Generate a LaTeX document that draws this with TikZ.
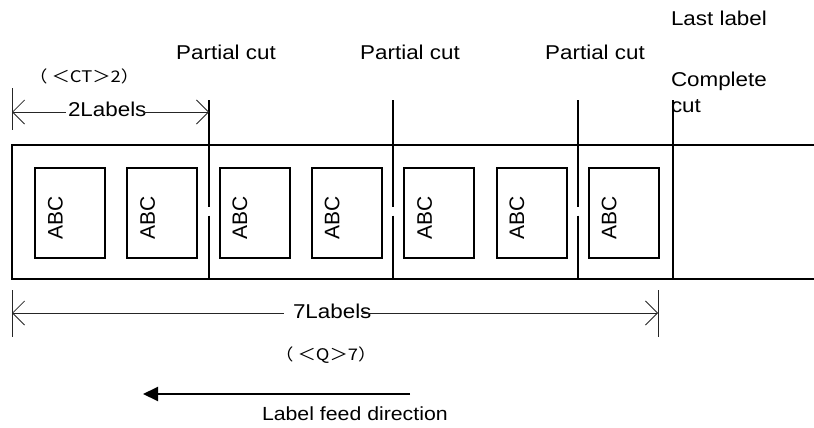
\documentclass[tikz,border=0pt]{standalone}
\usepackage{fontspec}
\setmainfont{Liberation Sans}
\newfontfamily\lblfont[FakeStretch=1.12]{Liberation Sans}
\newfontfamily\cjkfont[FakeStretch=1.15]{Noto Sans CJK JP}
\usetikzlibrary{arrows.meta,calc}
\begin{document}
\begin{tikzpicture}[x=1pt,y=-1pt,
  txt/.style={font=\lblfont\fontsize{20}{25}\selectfont, inner sep=0pt, outer sep=0pt},
  small/.style={font=\cjkfont\fontsize{16}{18}\selectfont, inner sep=0pt, outer sep=0pt},
  labelbox/.style={draw, line width=2pt, minimum width=70pt, minimum height=90pt, inner sep=0pt, outer sep=0pt},
  abc/.style={font=\fontsize{21}{21}\selectfont, rotate=90, anchor=base west, inner sep=0pt},
  strip/.style={line width=2pt},
  cutline/.style={line width=1.6pt},
  dimline/.style={line width=0.8pt, black!85},
  barbL/.style={{Straight Barb[length=12pt,width=24pt]}-},
  barbR/.style={-{Straight Barb[length=12pt,width=24pt]}},
]
\useasboundingbox (0,0) rectangle (814,428);

% tape strip
\coordinate (sTL) at (12,145);
\coordinate (sTR) at (814,145);
\coordinate (sBL) at (12,279);
\coordinate (sBR) at (814,279);
\draw[strip] (sTR) -- (sTL) -- (sBL) -- (sBR);

% labels
\foreach \i in {0,...,6}{
  \node[labelbox] (b\i) at ({70+92.33*\i},213) {};
  \node[abc] (t\i) at ({62.5+92.33*\i},240) {ABC};
}

% partial cuts
\foreach \n/\x in {1/209,2/393,3/578}{
  \coordinate (c\n t) at (\x,100);
  \coordinate (c\n g) at (\x,206.5);
  \coordinate (c\n h) at (\x,215.5);
  \coordinate (c\n b) at (\x,279);
  \draw[cutline] (c\n t) -- (c\n g) (c\n h) -- (c\n b);
  \node[txt, anchor=base] (pc\n) at (\x+17,59.5) {Partial cut};
}
% complete cut
\coordinate (cct) at (673,100);
\coordinate (ccb) at (673,279);
\draw[cutline] (cct) -- (ccb);
\node[txt, anchor=base west] (last) at (671,26) {Last label};
\node[txt, anchor=base west] (comp) at (671,87) {Complete};
\node[txt, anchor=base west] (compb) at (671,112) {cut};

% 2 labels dimension
\coordinate (k2t) at (12,88);
\coordinate (k2b) at (12,130);
\draw[dimline] (k2t) -- (k2b);
\coordinate (d2L) at (12,112);
\coordinate (d2R) at (209,112);
\node[txt, anchor=base west] (lab2) at (68,116) {2Labels};
\coordinate (d2a) at (66,112);
\coordinate (d2b) at (144,112);
\draw[dimline, barbL] (d2L) -- (d2a);
\draw[dimline, barbR] (d2b) -- (d2R);
\node[small, anchor=base west] (ct) at (29,82) {（ ＜CT＞2）};

% 7 labels dimension
\coordinate (k7a) at (12,290);
\coordinate (k7b) at (12,337);
\coordinate (k7c) at (658,290);
\coordinate (k7d) at (658,337);
\draw[dimline] (k7a) -- (k7b) (k7c) -- (k7d);
\coordinate (d7L) at (12,313);
\coordinate (d7R) at (658,313);
\node[txt, anchor=base west] (lab7) at (293,318.3) {7Labels};
\coordinate (d7a) at (284,313);
\coordinate (d7b) at (362,313);
\draw[dimline, barbL] (d7L) -- (d7a);
\draw[dimline, barbR] (d7b) -- (d7R);
\node[small, anchor=base west] (q) at (275,360) {（ ＜Q＞7）};

% feed direction
\coordinate (fS) at (410,394);
\coordinate (fE) at (143,394);
\draw[line width=2pt, -{Triangle[length=15pt,width=14pt]}] (fS) -- (fE);
\node[txt, font=\lblfont\fontsize{19}{22}\selectfont, anchor=base west] (feed) at (262,420) {Label feed direction};
\end{tikzpicture}
\end{document}
